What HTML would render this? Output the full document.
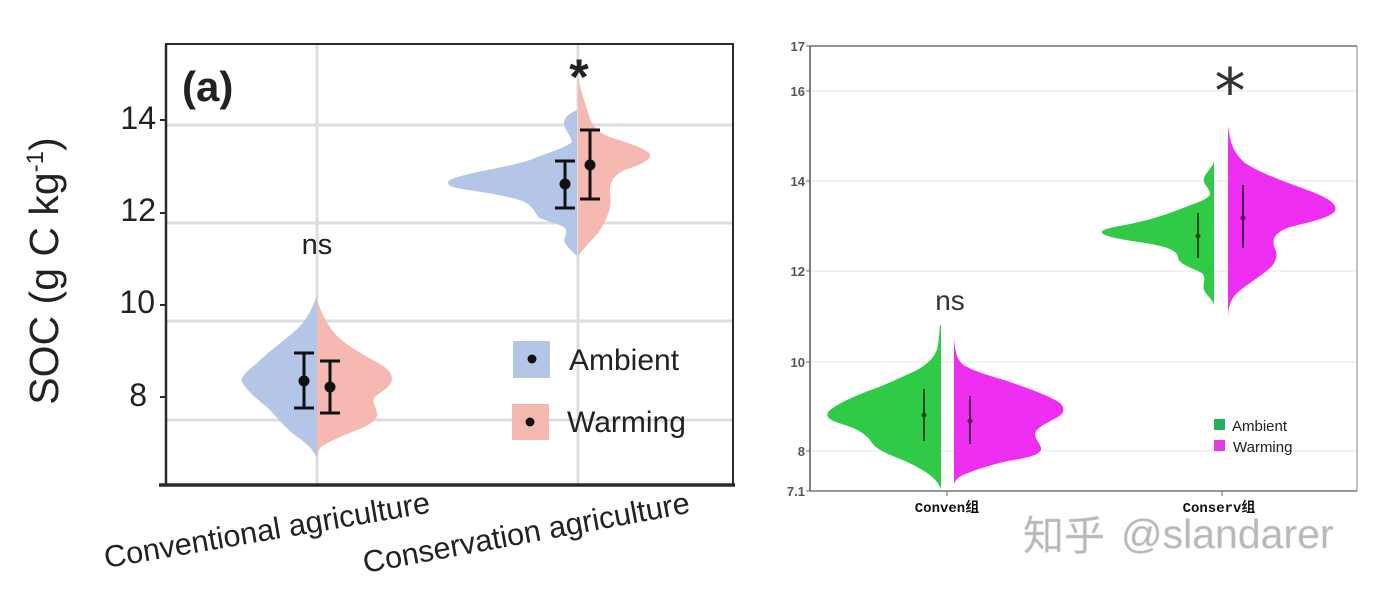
<!DOCTYPE html>
<html><head><meta charset="utf-8"><style>
html,body{margin:0;padding:0;background:#fff;}
svg{display:block;}
</style></head><body>
<svg width="1374" height="590" viewBox="0 0 1374 590" xmlns="http://www.w3.org/2000/svg">
<rect width="1374" height="590" fill="#fff"/>

<!-- ============ LEFT CHART ============ -->
<g>
  <g stroke="#dddddd" stroke-width="3">
    <line x1="166" y1="125" x2="732" y2="125"/>
    <line x1="166" y1="223" x2="732" y2="223"/>
    <line x1="166" y1="321" x2="732" y2="321"/>
    <line x1="166" y1="420" x2="732" y2="420"/>
    <line x1="317" y1="45" x2="317" y2="484"/>
    <line x1="578" y1="45" x2="578" y2="484"/>
  </g>

  <path d="M317,295 C312,310 305,322 296,330 C285,340 268,352 257,363 C246,372 240,378 242,382 C246,390 258,400 268,408 C278,418 285,428 296,436 C306,443 312,448 317,458 Z" fill="#b4c6e7"/>
  <path d="M317,300 C322,315 328,326 337,336 C350,348 366,356 380,364 C390,370 394,376 391,383 C387,390 378,393 374,398 C372,404 378,410 377,416 C375,422 364,428 352,432 C338,438 326,443 320,448 C318,451 317,455 317,458 Z" fill="#f5b9b1"/>

  <path d="M577,110 C572,112 565,116 564,122 C563,128 570,134 572,142 C565,148 550,152 530,160 C505,168 470,172 452,179 C444,183 448,187 462,189 C480,192 505,195 522,201 C532,205 535,212 538,217 C545,221 560,224 565,228 C569,233 562,238 565,243 C568,248 573,252 577,256 Z" fill="#b4c6e7"/>
  <path d="M578,77 C580,88 584,100 588,112 C591,124 596,132 610,137 C628,143 645,148 650,154 C652,160 640,165 625,170 C614,175 610,182 610,190 C610,198 612,205 608,214 C605,222 602,228 598,233 C592,240 584,248 578,256 Z" fill="#f5b9b1"/>

  <g stroke="#111" stroke-width="3" fill="none">
    <line x1="304" y1="353" x2="304" y2="408"/><line x1="294" y1="353" x2="314" y2="353"/><line x1="294" y1="408" x2="314" y2="408"/>
    <line x1="330" y1="361" x2="330" y2="413"/><line x1="320" y1="361" x2="340" y2="361"/><line x1="320" y1="413" x2="340" y2="413"/>
    <line x1="565" y1="161" x2="565" y2="208"/><line x1="555" y1="161" x2="575" y2="161"/><line x1="555" y1="208" x2="575" y2="208"/>
    <line x1="590" y1="130" x2="590" y2="199"/><line x1="580" y1="130" x2="600" y2="130"/><line x1="580" y1="199" x2="600" y2="199"/>
  </g>
  <g fill="#111">
    <circle cx="304" cy="381" r="5.5"/>
    <circle cx="330" cy="387" r="5.5"/>
    <circle cx="565" cy="184" r="5.5"/>
    <circle cx="590" cy="165" r="5.5"/>
  </g>

  <g stroke="#2a2a2a" fill="none">
    <line x1="165" y1="44" x2="734" y2="44" stroke-width="2"/>
    <line x1="733" y1="44" x2="733" y2="486" stroke-width="2"/>
    <line x1="166" y1="44" x2="166" y2="486" stroke-width="2.5"/>
    <line x1="159" y1="485" x2="735" y2="485" stroke-width="3.5"/>
    <line x1="160" y1="120" x2="166" y2="120" stroke-width="2"/>
    <line x1="160" y1="213" x2="166" y2="213" stroke-width="2"/>
    <line x1="160" y1="305" x2="166" y2="305" stroke-width="2"/>
    <line x1="160" y1="397" x2="166" y2="397" stroke-width="2"/>
  </g>

  <g font-family="Liberation Sans, Arial, sans-serif" font-size="32" fill="#222" text-anchor="end">
    <text x="156" y="129">14</text>
    <text x="156" y="221">12</text>
    <text x="155" y="313">10</text>
    <text x="147" y="406">8</text>
  </g>

  <text transform="translate(58,271) rotate(-90)" text-anchor="middle" font-family="Liberation Sans, Arial, sans-serif" font-size="41" fill="#222">SOC (g C kg<tspan font-size="24" dy="-15">-1</tspan><tspan dy="15">)</tspan></text>

  <text x="182" y="101" font-family="Liberation Sans, Arial, sans-serif" font-size="42" font-weight="bold" fill="#222">(a)</text>

  <text x="317" y="254" text-anchor="middle" font-family="Liberation Sans, Arial, sans-serif" font-size="29" fill="#222">ns</text>
  <text x="579" y="94" text-anchor="middle" font-family="Liberation Sans, Arial, sans-serif" font-size="50" font-weight="bold" fill="#222">*</text>

  <rect x="513" y="341" width="37" height="37" fill="#b4c6e7"/>
  <circle cx="532" cy="359" r="4.5" fill="#111"/>
  <rect x="512" y="404" width="37" height="36" fill="#f5b9b1"/>
  <circle cx="530" cy="422" r="4.5" fill="#111"/>
  <g font-family="Liberation Sans, Arial, sans-serif" font-size="30" fill="#222">
    <text x="569" y="370">Ambient</text>
    <text x="567" y="432">Warming</text>
  </g>

  <g font-family="Liberation Sans, Arial, sans-serif" font-size="30.6" fill="#222">
    <text transform="translate(106,568) rotate(-9.7)">Conventional agriculture</text>
    <text transform="translate(365,573) rotate(-10.5)">Conservation agriculture</text>
  </g>
</g>

<!-- ============ RIGHT CHART ============ -->
<g>
  <g stroke="#eeeeee" stroke-width="1.5">
    <line x1="811" y1="91" x2="1356" y2="91"/>
    <line x1="811" y1="181" x2="1356" y2="181"/>
    <line x1="811" y1="271" x2="1356" y2="271"/>
    <line x1="811" y1="362" x2="1356" y2="362"/>
    <line x1="811" y1="451" x2="1356" y2="451"/>
  </g>

  <path d="M940,325 C939,335 939,345 936,352 C932,360 925,366 915,371 C900,378 885,385 868,391 C850,398 835,405 828,412 C825,418 832,421 845,425 C860,430 868,436 872,443 C877,450 890,455 905,461 C920,468 932,475 937,482 C940,486 941,489 941,490 L941,325 Z" fill="#30cb46"/>
  <path d="M954,338 C955,350 956,360 965,366 C978,373 995,377 1010,382 C1030,389 1050,396 1060,403 C1066,409 1064,414 1056,418 C1045,424 1036,428 1035,434 C1035,440 1042,445 1041,450 C1038,456 1025,458 1008,461 C990,465 975,470 963,475 C957,478 955,481 954,484 Z" fill="#ee2ef0"/>

  <path d="M1214,161 C1213,167 1206,172 1204,178 C1202,184 1210,188 1210,194 C1208,200 1195,203 1183,208 C1168,214 1150,220 1130,224 C1115,227 1100,229 1102,233 C1105,237 1125,240 1145,243 C1165,246 1177,250 1178,257 C1178,264 1192,268 1202,273 C1207,278 1202,284 1204,290 C1207,296 1213,300 1214,305 Z" fill="#30cb46"/>
  <path d="M1228,126 C1230,140 1232,152 1245,163 C1260,173 1285,182 1310,191 C1328,198 1338,204 1335,211 C1330,218 1310,222 1290,227 C1276,232 1272,238 1274,246 C1277,253 1278,258 1272,266 C1262,276 1245,285 1235,295 C1229,303 1228,310 1228,320 Z" fill="#ee2ef0"/>

  <g stroke-width="2">
    <line x1="924" y1="389" x2="924" y2="441" stroke="#1e4a22"/>
    <line x1="970" y1="396" x2="970" y2="444" stroke="#4a1050"/>
    <line x1="1198" y1="213" x2="1198" y2="258" stroke="#1e4a22"/>
    <line x1="1243" y1="185" x2="1243" y2="248" stroke="#4a1050"/>
  </g>
  <circle cx="924" cy="415" r="2.5" fill="#1e4a22"/>
  <circle cx="970" cy="421" r="2.5" fill="#4a1050"/>
  <circle cx="1198" cy="236" r="2.5" fill="#1e4a22"/>
  <circle cx="1243" cy="218" r="2.5" fill="#4a1050"/>

  <g fill="none">
    <line x1="810" y1="46" x2="1357" y2="46" stroke="#555" stroke-width="1.2"/>
    <line x1="1357" y1="46" x2="1357" y2="491" stroke="#999" stroke-width="1.2"/>
    <line x1="810" y1="491" x2="1357" y2="491" stroke="#777" stroke-width="1.5"/>
    <line x1="810" y1="46" x2="810" y2="491" stroke="#555" stroke-width="1.5"/>
  </g>
  <g stroke="#666" stroke-width="1">
    <line x1="806" y1="46" x2="810" y2="46"/>
    <line x1="806" y1="91" x2="810" y2="91"/>
    <line x1="806" y1="181" x2="810" y2="181"/>
    <line x1="806" y1="271" x2="810" y2="271"/>
    <line x1="806" y1="362" x2="810" y2="362"/>
    <line x1="806" y1="451" x2="810" y2="451"/>
    <line x1="806" y1="491" x2="810" y2="491"/>
    <line x1="947" y1="491" x2="947" y2="496"/>
    <line x1="1222" y1="491" x2="1222" y2="496"/>
  </g>

  <g font-family="Liberation Sans, Arial, sans-serif" font-size="13" font-weight="bold" fill="#555" text-anchor="end">
    <text x="805" y="51">17</text>
    <text x="805" y="96">16</text>
    <text x="805" y="186">14</text>
    <text x="805" y="276">12</text>
    <text x="805" y="367">10</text>
    <text x="805" y="456">8</text>
    <text x="805" y="496">7.1</text>
  </g>

  <g font-family="Liberation Mono, Noto Sans CJK SC, monospace" font-size="14" font-weight="bold" fill="#111" text-anchor="middle">
    <text x="947" y="512">Conven组</text>
    <text x="1219" y="512">Conserv组</text>
  </g>

  <text x="950" y="310" text-anchor="middle" font-family="Liberation Sans, Arial, sans-serif" font-size="28" fill="#333">ns</text>
  <text x="1230" y="113" text-anchor="middle" font-family="DejaVu Sans, sans-serif" font-size="62" fill="#333">*</text>

  <rect x="1214" y="419" width="11" height="11" fill="#22b058"/>
  <rect x="1214" y="440" width="11" height="11" fill="#e23ae4"/>
  <g font-family="Liberation Sans, Arial, sans-serif" font-size="15" fill="#222">
    <text x="1232" y="431">Ambient</text>
    <text x="1233" y="452">Warming</text>
  </g>

  <g font-family="Liberation Sans, Noto Sans CJK SC, sans-serif" font-size="41" fill="#b8b8b8" stroke="#d8d8d8" stroke-width="0.5">
    <text x="1023" y="550">知乎</text>
    <text x="1121" y="548">@slandarer</text>
  </g>
</g>
</svg>
</body></html>
